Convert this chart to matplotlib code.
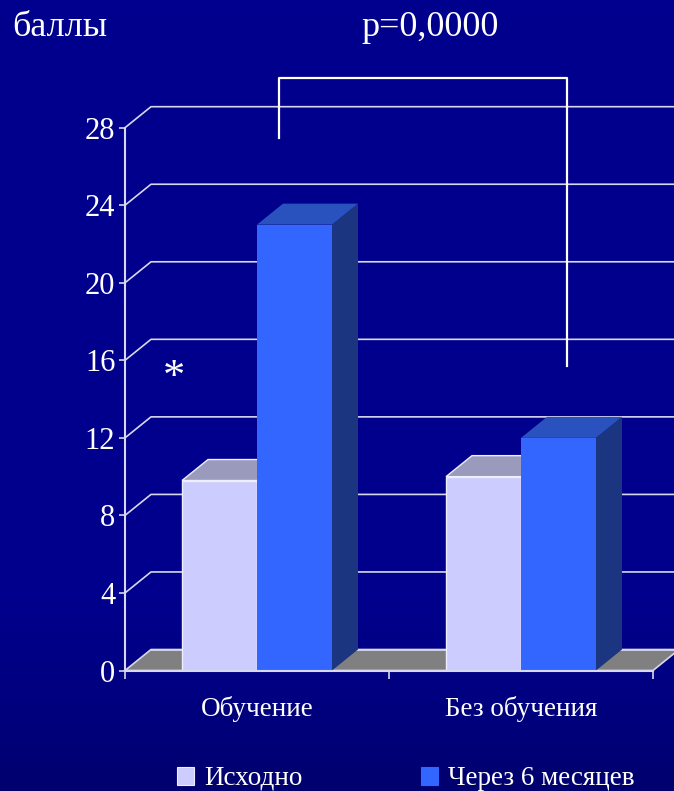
import numpy as np
import matplotlib
matplotlib.use("Agg")
import matplotlib.pyplot as plt
from matplotlib.patches import Polygon, Rectangle
from matplotlib.lines import Line2D

# ---- data ----
categories = ["Обучение", "Без обучения"]
series_names = ["Исходно", "Через 6 месяцев"]
baseline_vals = [9.8, 10.0]
month6_vals = [23.0, 12.0]
yticks = [0, 4, 8, 12, 16, 20, 24, 28]
y_label = "баллы"
p_text = "p=0,0000"

# ---- style ----
SERIF = ["Liberation Serif", "DejaVu Serif"]
W, H = 674, 791
front_cols = ["#CCCCFF", "#3366FF"]
top_cols = ["#9A9ABD", "#2A52BE"]
side_cols = ["#7A7AA0", "#1C3580"]
edge_cols = ["#EEEEFF", "none"]
grid_col = "#D8D8EC"

fig = plt.figure(figsize=(W / 100, H / 100), dpi=100)

def fx(px):
    return px / W

def fy(py):
    return 1 - py / H

# background gradient
bg = fig.add_axes([0, 0, 1, 1], zorder=-10)
rows = np.linspace(0, H, 200)
blue = np.interp(rows, [0, 600, 700, H], [0x8E, 0x8C, 0x80, 0x6E]) / 255.0
grad = np.zeros((200, 1, 3))
grad[:, 0, 2] = blue
bg.imshow(grad, aspect="auto", extent=[0, 1, 0, 1])
bg.axis("off")

# main axes
y0_px, y28_px = 670.5, 127.7
x0_px, x2_px = 125, 653
ax = fig.add_axes([fx(x0_px), fy(y0_px), (x2_px - x0_px) / W, (y0_px - y28_px) / H])
ax.patch.set_alpha(0)
ax.set_xlim(0, 2)
ax.set_ylim(0, 28)

xs_per_px = 2 / (x2_px - x0_px)
ys_per_px = 28 / (y0_px - y28_px)
dx = 26 * xs_per_px
dy = 21 * ys_per_px

# gridlines on back wall with diagonal connectors
for t in yticks[1:]:
    ax.plot([0, dx, 2.3], [t, t + dy, t + dy], color=grid_col, lw=1.2,
            clip_on=False, zorder=1)

# floor
floor = Polygon([[0, 0], [2, 0], [2 + dx, dy], [dx, dy]], closed=True,
                facecolor="#808080", edgecolor=grid_col, lw=1.2,
                clip_on=False, zorder=1)
ax.add_patch(floor)
ax.plot([dx, 2.3], [dy, dy], color=grid_col, lw=1.2, clip_on=False, zorder=1)

# bars
bw = 75 * xs_per_px
centers = np.arange(len(categories)) + 0.5
series = [baseline_vals, month6_vals]
for si, vals in enumerate(series):
    xpos = centers + (si - 0.5) * bw
    bars = ax.bar(xpos, vals, width=bw, color=front_cols[si],
                  edgecolor=edge_cols[si], lw=1.0, zorder=5 + si * 3 + 2,
                  label=series_names[si])
    for rect, v in zip(bars, vals):
        x0 = rect.get_x()
        x1 = x0 + rect.get_width()
        top = Polygon([[x0, v], [x1, v], [x1 + dx, v + dy], [x0 + dx, v + dy]],
                      closed=True, facecolor=top_cols[si],
                      edgecolor=edge_cols[si], lw=1.0, zorder=5 + si * 3 + 1)
        side = Polygon([[x1, 0], [x1 + dx, dy], [x1 + dx, v + dy], [x1, v]],
                       closed=True, facecolor=side_cols[si],
                       edgecolor="none", zorder=5 + si * 3)
        ax.add_patch(side)
        ax.add_patch(top)

# axes spines and ticks
for s in ["top", "right"]:
    ax.spines[s].set_visible(False)
for s in ["left", "bottom"]:
    ax.spines[s].set_color(grid_col)
    ax.spines[s].set_linewidth(1.5)
    ax.spines[s].set_zorder(20)
ax.set_yticks(yticks)
ax.set_yticklabels([str(t) for t in yticks], fontfamily=SERIF, fontsize=22,
                   color="white")
ax.tick_params(axis="y", direction="out", length=4, width=1.2,
               color=grid_col, pad=3)
ax.set_xticks([0, 1, 2])
ax.set_xticklabels(["", "", ""])
ax.tick_params(axis="x", which="major", direction="out", length=6,
               width=1.2, color=grid_col)
ax.set_xticks(centers, minor=True)
ax.set_xticklabels(categories, minor=True, fontfamily=SERIF, fontsize=19.5,
                   color="white")
ax.tick_params(axis="x", which="minor", length=0, pad=18)

# texts
fig.text(fx(12), fy(36), y_label, fontfamily=SERIF, fontsize=26,
         color="white", va="baseline", ha="left")
fig.text(fx(430), fy(36), p_text, fontfamily=SERIF, fontsize=26,
         color="white", va="baseline", ha="center")

# bracket
fig.add_artist(Line2D([fx(279), fx(279), fx(567), fx(567)],
                      [fy(138), fy(78), fy(78), fy(366)],
                      color="white", lw=1.6))
# asterisk
fig.text(fx(174), fy(378), "*", fontfamily=SERIF, fontsize=32,
         color="white", ha="center", va="center")

# legend (manual)
leg_x = [177, 421]
for si, name in enumerate(series_names):
    fig.add_artist(Rectangle((fx(leg_x[si]), fy(785)), 17 / W, 18 / H,
                             facecolor=front_cols[si],
                             edgecolor="#EEEEFF" if si == 0 else front_cols[si],
                             lw=0.8, transform=fig.transFigure))
    fig.text(fx(leg_x[si] + 27), fy(785), name, fontfamily=SERIF,
             fontsize=19.5, color="white", va="baseline", ha="left")

fig.savefig("out.png", dpi=100)
